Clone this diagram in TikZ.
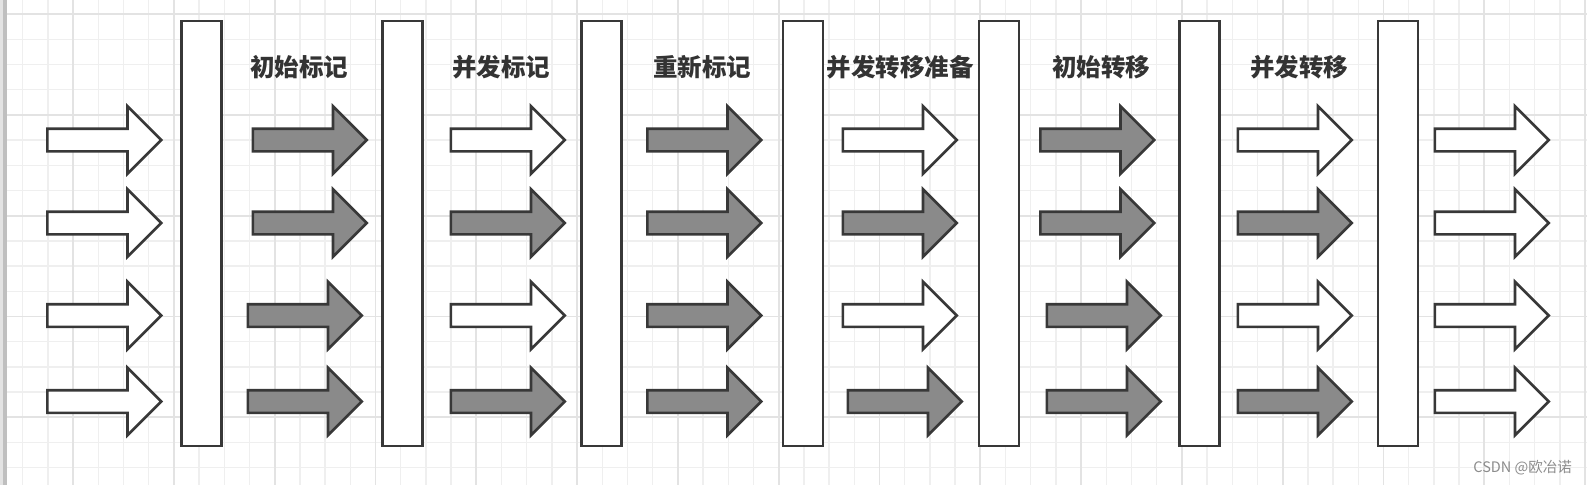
\documentclass[tikz,border=0pt]{standalone}
\usepackage{fontspec}
\usepackage{xcolor}
\usepackage{tikz}
\usetikzlibrary{shapes.arrows,positioning}
\newfontfamily\cjk{Noto Sans CJK SC}
\definecolor{edge}{HTML}{383838}
\definecolor{darr}{HTML}{8A8A8A}
\definecolor{gridminor}{HTML}{EFEFEF}
\definecolor{gridmajor}{HTML}{E3E3E3}
\definecolor{lbltext}{HTML}{333333}
\definecolor{wmark}{HTML}{8C8C8C}

\begin{document}
\begin{tikzpicture}[
  x=1pt,y=-1pt,
  bar/.style={draw=edge,line width=2.6pt,fill=white,inner sep=0pt,
              minimum width=40pt,minimum height=425pt,anchor=north west},
  arr/.style={single arrow,draw=edge,line width=2.6pt,inner xsep=0pt,inner ysep=10pt,
              minimum height=114pt,minimum width=20pt,single arrow head extend=22.5pt,
              single arrow tip angle=90,anchor=tail},
  warr/.style={arr,fill=white},
  garr/.style={arr,fill=darr},
  lbl/.style={font=\cjk\bfseries\fontsize{24.5}{28}\selectfont,text=lbltext,inner sep=0pt}
]
\useasboundingbox (0,0) rectangle (1587,485);
\fill[white] (0,0) rectangle (1587,485);
% grid
\foreach \k in {0,...,18} \draw[gridminor,line width=1.4pt] (7,14+25.2*\k) -- (1587,14+25.2*\k);
\foreach \k in {0,...,62} \draw[gridminor,line width=1.4pt] (22.7+25.2*\k,0) -- (22.7+25.2*\k,485);
\foreach \k in {0,4,...,16} \draw[gridmajor,line width=1.8pt] (7,14+25.2*\k) -- (1587,14+25.2*\k);
\foreach \k in {2,6,...,62} \draw[gridmajor,line width=1.8pt] (22.7+25.2*\k,0) -- (22.7+25.2*\k,485);
% left border
\fill[gray!22] (0,0) rectangle (2.7,485);
\fill[gray!50] (2.7,0) rectangle (6.7,485);

% phase bars
\node[bar] (b1) at (180,19.5) {};
\node[bar] (b2) at (381,19.5) {};
\node[bar] (b3) at (580,19.5) {};
\node[bar] (b4) at (781.5,19.5) {};
\node[bar] (b5) at (977.5,19.5) {};
\node[bar] (b6) at (1178,19.5) {};
\node[bar] (b7) at (1376.5,19.5) {};

% phase names
\node[lbl] (l1) at (299,67) {初始标记};
\node[lbl] (l2) at (501,67) {并发标记};
\node[lbl] (l3) at (702,67) {重新标记};
\node[lbl] (l4) at (900,67) {并发转移准备};
\node[lbl] (l5) at (1101,67) {初始转移};
\node[lbl] (l6) at (1299,67) {并发转移};

% threads
\node[warr] (c1r1) at (46,140) {};
\node[warr] (c1r2) at (46,223) {};
\node[warr] (c1r3) at (46,315.5) {};
\node[warr] (c1r4) at (46,401.5) {};

\node[garr] (c2r1) at (251.5,140) {};
\node[garr] (c2r2) at (251.5,223) {};
\node[garr] (c2r3) at (246.5,315.5) {};
\node[garr] (c2r4) at (246.5,401.5) {};

\node[warr] (c3r1) at (449.5,140) {};
\node[garr] (c3r2) at (449.5,223) {};
\node[warr] (c3r3) at (449.5,315.5) {};
\node[garr] (c3r4) at (449.5,401.5) {};

\node[garr] (c4r1) at (646,140) {};
\node[garr] (c4r2) at (646,223) {};
\node[garr] (c4r3) at (646,315.5) {};
\node[garr] (c4r4) at (646,401.5) {};

\node[warr] (c5r1) at (841.5,140) {};
\node[garr] (c5r2) at (841.5,223) {};
\node[warr] (c5r3) at (841.5,315.5) {};
\node[garr] (c5r4) at (846.5,401.5) {};

\node[garr] (c6r1) at (1039,140) {};
\node[garr] (c6r2) at (1039,223) {};
\node[garr] (c6r3) at (1045.5,315.5) {};
\node[garr] (c6r4) at (1045.5,401.5) {};

\node[warr] (c7r1) at (1236.5,140) {};
\node[garr] (c7r2) at (1236.5,223) {};
\node[warr] (c7r3) at (1236.5,315.5) {};
\node[garr] (c7r4) at (1236.5,401.5) {};

\node[warr] (c8r1) at (1433.5,140) {};
\node[warr] (c8r2) at (1433.5,223) {};
\node[warr] (c8r3) at (1433.5,315.5) {};
\node[warr] (c8r4) at (1433.5,401.5) {};

% watermark
\node[font=\cjk\fontsize{14.5}{17}\selectfont,text=wmark,anchor=east,inner sep=0pt] (wm) at (1572,468) {CSDN @欧冶诺};
\end{tikzpicture}
\end{document}
